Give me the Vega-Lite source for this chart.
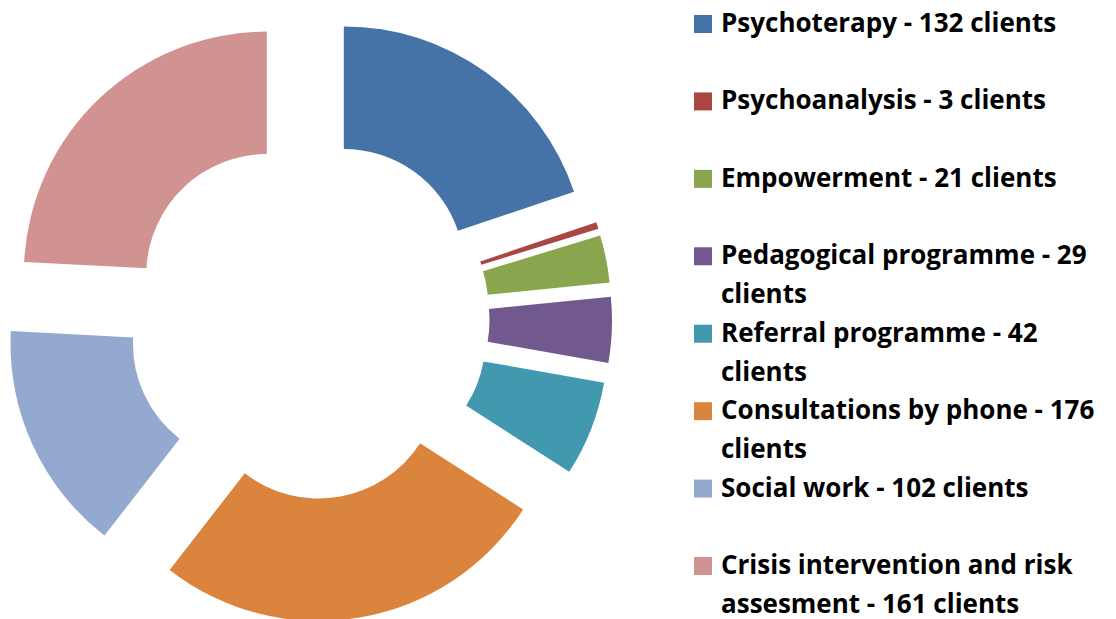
{
  "$schema": "https://vega.github.io/schema/vega-lite/v6.json",
  "padding": 0,
  "background": "white",
  "spacing": 77,
  "config": {"view": {"stroke": null}},
  "data": {"values": [
    {"category": "Psychoterapy", "value": 132, "line1": "Psychoterapy - 132 clients", "line2": ""},
    {"category": "Psychoanalysis", "value": 3, "line1": "Psychoanalysis - 3 clients", "line2": ""},
    {"category": "Empowerment", "value": 21, "line1": " Empowerment - 21 clients", "line2": ""},
    {"category": "Pedagogical programme", "value": 29, "line1": " Pedagogical programme - 29", "line2": "clients"},
    {"category": "Referral programme", "value": 42, "line1": " Referral programme - 42", "line2": "clients"},
    {"category": "Consultations by phone", "value": 176, "line1": "Consultations by phone - 176", "line2": "clients"},
    {"category": "Social work", "value": 102, "line1": "Social work - 102 clients", "line2": ""},
    {"category": "Crisis intervention and risk assesment", "value": 161, "line1": "Crisis intervention and risk", "line2": "assesment - 161 clients"}
  ]},
  "hconcat": [
    {
      "width": 617,
      "height": 619,
      "transform": [{"stack": "value", "groupby": [], "as": ["v0", "v1"]}],
      "encoding": {
        "theta": {"field": "v0", "type": "quantitative", "scale": {"domain": [0, 666], "nice": false, "zero": true}},
        "theta2": {"field": "v1"},
        "color": {
          "field": "category", "type": "nominal", "legend": null,
          "scale": {
            "domain": ["Psychoterapy", "Psychoanalysis", "Empowerment", "Pedagogical programme", "Referral programme", "Consultations by phone", "Social work", "Crisis intervention and risk assesment"],
            "range": ["#4572A7", "#AA4643", "#89A54E", "#71588F", "#4198AF", "#DB843D", "#93A9CF", "#D19392"]
          }
        }
      },
      "layer": [
        {"transform": [{"filter": "datum.category === 'Psychoterapy'"}], "mark": {"type": "arc", "radius": 243, "radius2": 120.5, "xOffset": 35.3, "yOffset": -40.1}},
        {"transform": [{"filter": "datum.category === 'Psychoanalysis'"}], "mark": {"type": "arc", "radius": 243, "radius2": 120.5, "xOffset": 57.6, "yOffset": -9.5}},
        {"transform": [{"filter": "datum.category === 'Empowerment'"}], "mark": {"type": "arc", "radius": 243, "radius2": 120.5, "xOffset": 59.3, "yOffset": -2.9}},
        {"transform": [{"filter": "datum.category === 'Pedagogical programme'"}], "mark": {"type": "arc", "radius": 243, "radius2": 120.5, "xOffset": 60.5, "yOffset": 11.3}},
        {"transform": [{"filter": "datum.category === 'Referral programme'"}], "mark": {"type": "arc", "radius": 243, "radius2": 120.5, "xOffset": 56.3, "yOffset": 31.0}},
        {"transform": [{"filter": "datum.category === 'Consultations by phone'"}], "mark": {"type": "arc", "radius": 243, "radius2": 120.5, "xOffset": 10.2, "yOffset": 68.6}},
        {"transform": [{"filter": "datum.category === 'Social work'"}], "mark": {"type": "arc", "radius": 243, "radius2": 120.5, "xOffset": -55.0, "yOffset": 34.2}},
        {"transform": [{"filter": "datum.category === 'Crisis intervention and risk assesment'"}], "mark": {"type": "arc", "radius": 243, "radius2": 120.5, "xOffset": -41.7, "yOffset": -34.9}}
      ]
    },
    {
      "width": 18,
      "height": 619,
      "encoding": {
        "y": {"field": "category", "type": "nominal", "sort": null, "axis": null, "scale": {"type": "point", "padding": 0, "range": [24, 566]}}
      },
      "layer": [
        {
          "mark": {"type": "point", "shape": "square", "filled": true, "size": 324, "opacity": 1, "strokeWidth": 0},
          "encoding": {"color": {"field": "category", "type": "nominal", "legend": null}}
        },
        {
          "mark": {"type": "text", "align": "left", "baseline": "middle", "dx": 18, "font": "Open Sans", "fontWeight": "bold", "fontSize": 26, "color": "black"},
          "encoding": {"text": {"field": "line1"}}
        },
        {
          "mark": {"type": "text", "align": "left", "baseline": "middle", "dx": 18, "dy": 39, "font": "Open Sans", "fontWeight": "bold", "fontSize": 26, "color": "black"},
          "encoding": {"text": {"field": "line2"}}
        }
      ]
    }
  ]
}
